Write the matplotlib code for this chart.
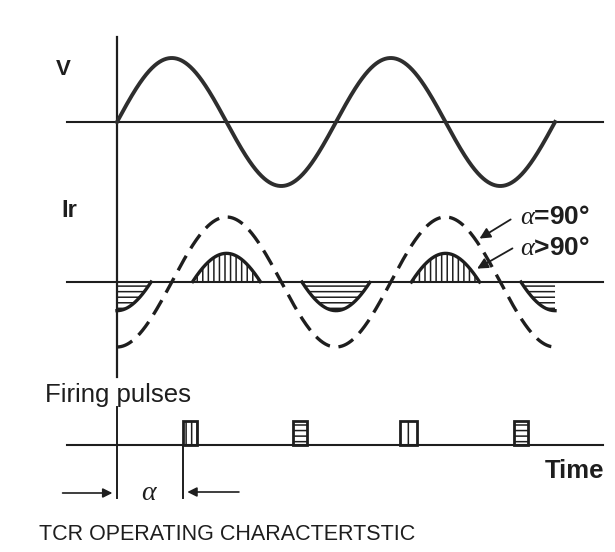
import numpy as np
import matplotlib.pyplot as plt

plt.rcParams['font.family'] = ['Liberation Sans', 'DejaVu Sans']
plt.rcParams['mathtext.fontset'] = 'custom'
plt.rcParams['mathtext.it'] = 'Liberation Serif:italic'
plt.rcParams['mathtext.rm'] = 'Liberation Sans'
plt.rcParams['hatch.linewidth'] = 1.1

# ---- values ----
# x axis is electrical angle in degrees (0 = voltage zero crossing)
theta_end   = 720          # two full cycles are drawn
v_amp       = 64           # voltage amplitude (drawing units)
i_amp       = 65           # reactor current amplitude at alpha = 90 deg
alpha_deg   = 124          # firing angle of the partial-conduction current
pulse_start = [108, 289, 465, 653]      # firing pulse start angles
pulse_width = [23, 23, 28, 23]
pulse_hatch = ['|||', '---', '|', '---']

# vertical placement of the three traces (drawing units, downwards)
y_v     = 122
y_i     = 282
y_pulse = 445
pulse_h = 24

ink = '#1e1e1e'

theta = np.linspace(0, theta_end, 1441)
rad = np.radians(theta)
v = v_amp * np.sin(rad)
i90 = -i_amp * np.cos(rad)
cut = -i_amp * np.cos(np.radians(alpha_deg))
i_alpha = np.where(np.abs(i90) > cut, np.sign(i90) * (np.abs(i90) - cut), 0.0)

fig = plt.figure(figsize=(6.15, 5.52), dpi=100)
ax = fig.add_axes([0, 0, 1, 1])
ax.set_xlim(-192.3, 818.6)
ax.set_ylim(552, 0)
ax.axis('off')

# axes lines
ax.plot([0, 0], [37, 377], color=ink, lw=1.6)
ax.plot([0, 0], [407, 498], color=ink, lw=1.4)
for yy in (y_v, y_i, y_pulse):
    ax.plot([-82, 799], [yy, yy], color=ink, lw=1.5)

# voltage
ax.plot(theta, y_v - v, color='#2e2e2e', lw=2.8)

# current, alpha = 90
ax.plot(theta, y_i - i90, color=ink, lw=2.4, dashes=(5, 2.6))

# current, alpha > 90 (conducting parts only)
i_line = np.where(i_alpha != 0, i_alpha, np.nan)
ax.plot(theta, y_i - i_line, color=ink, lw=2.4)
ax.fill_between(theta, y_i, y_i - i_alpha, where=i_alpha > 0, interpolate=True,
                facecolor='none', edgecolor=ink, hatch='|||', linewidth=0)
ax.fill_between(theta, y_i, y_i - i_alpha, where=i_alpha < 0, interpolate=True,
                facecolor='none', edgecolor=ink, hatch='---', linewidth=0)

# firing pulses
for s, w, h in zip(pulse_start, pulse_width, pulse_hatch):
    ax.add_patch(plt.Rectangle((s, y_pulse - pulse_h), w, pulse_h, facecolor='white',
                               edgecolor=ink, lw=2.0, hatch=h))

# alpha dimension
ax.plot([pulse_start[0], pulse_start[0]], [447, 498], color=ink, lw=1.4)
ax.annotate('', xy=(-3, 493), xytext=(-94, 493),
            arrowprops=dict(arrowstyle='-|>', color=ink, lw=1.2, mutation_scale=14))
ax.annotate('', xy=(pulse_start[0] + 3, 492), xytext=(205, 492),
            arrowprops=dict(arrowstyle='-|>', color=ink, lw=1.2, mutation_scale=14))
ax.text(54, 493, r'$\alpha$', fontsize=20, color=ink, ha='center', va='center')

# curve labels with arrows
ax.annotate('', xy=(592, 240), xytext=(651, 218),
            arrowprops=dict(arrowstyle='-|>', color=ink, lw=1.3, mutation_scale=16))
ax.annotate('', xy=(588, 270), xytext=(654, 247),
            arrowprops=dict(arrowstyle='-|>', color=ink, lw=1.3, mutation_scale=16))
ax.text(662, 217, r'$\alpha$=90°', fontsize=19, color=ink, va='center', fontweight='bold')
ax.text(662, 248, r'$\alpha$>90°', fontsize=19, color=ink, va='center', fontweight='bold')

# texts
ax.text(-100, 75, 'V', fontsize=16, color=ink, va='baseline', fontweight='bold')
ax.text(-92, 217, 'Ir', fontsize=17, color=ink, va='baseline', fontweight='bold')
ax.text(-118, 402, 'Firing pulses', fontsize=18.5, color=ink, va='baseline')
ax.text(703, 478, 'Time', fontsize=18.5, color=ink, va='baseline', fontweight='bold')
ax.text(-128, 540, 'TCR OPERATING CHARACTERTSTIC', fontsize=15.5, color=ink, va='baseline')

fig.savefig('out.png', dpi=100, facecolor='white')
